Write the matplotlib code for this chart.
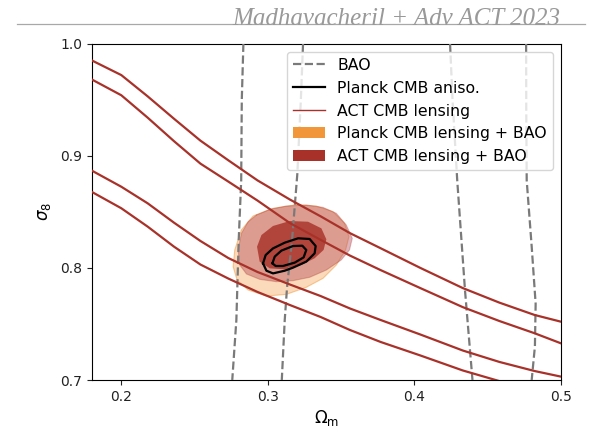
import matplotlib
matplotlib.use("Agg")
import matplotlib.pyplot as plt
from matplotlib.lines import Line2D
from matplotlib.patches import Patch

# ---- ACT CMB lensing band edges (sigma_8 along a common Omega_m grid) ----
lens_om = [0.180, 0.200, 0.218, 0.236, 0.254, 0.273, 0.293, 0.315, 0.336,
           0.356, 0.377, 0.404, 0.433, 0.458, 0.482, 0.500]
lens_upper_2s = [0.985, 0.972, 0.953, 0.933, 0.9135, 0.896, 0.878, 0.861, 0.846,
                 0.831, 0.8175, 0.800, 0.782, 0.769, 0.758, 0.752]
lens_upper_1s = [0.968, 0.954, 0.934, 0.913, 0.893, 0.877, 0.860, 0.840, 0.825,
                 0.811, 0.798, 0.782, 0.765, 0.7526, 0.7417, 0.7327]
lens_lower_1s = [0.8867, 0.8724, 0.8576, 0.8403, 0.824, 0.8088, 0.7963, 0.7852, 0.7749,
                 0.7638, 0.7535, 0.7406, 0.7263, 0.7161, 0.708, 0.703]
lens_lower_2s = [0.8677, 0.8532, 0.8368, 0.8189, 0.803, 0.7905, 0.7785, 0.7669, 0.7562,
                 0.7446, 0.7339, 0.7219, 0.7085, 0.699]

# ---- BAO contour edges (Omega_m along sigma_8) ----
bao1_s8 = [1.0, 0.95, 0.878, 0.825, 0.7535, 0.70]
bao1_om = [0.2833, 0.2822, 0.2818, 0.2801, 0.2785, 0.2757]
bao2_s8 = [1.0, 0.95, 0.884, 0.825, 0.783, 0.7535, 0.70]
bao2_om = [0.324, 0.3225, 0.3201, 0.3165, 0.3131, 0.3115, 0.3095]
bao3_s8 = [1.0, 0.95, 0.878, 0.78, 0.70]
bao3_om = [0.4243, 0.426, 0.4292, 0.4345, 0.4396]
bao4_s8 = [1.0, 0.94, 0.878, 0.819, 0.768, 0.73, 0.70]
bao4_om = [0.4762, 0.4763, 0.4766, 0.480, 0.4827, 0.4822, 0.480]

# ---- Planck CMB lensing + BAO, 95% region ----
plk_om = [0.2819, 0.2899, 0.3035, 0.3194, 0.3330, 0.3444, 0.3523, 0.3553, 0.3530,
          0.3467, 0.3376, 0.3262, 0.3126, 0.2990, 0.2865, 0.2790, 0.2763, 0.2774]
plk_s8 = [0.8338, 0.8463, 0.8531, 0.8564, 0.8552, 0.8502, 0.8398, 0.8279, 0.8160,
          0.8026, 0.7907, 0.7827, 0.7764, 0.7749, 0.7803, 0.7892, 0.8011, 0.8160]

# ---- ACT CMB lensing + BAO, 95% and 68% regions ----
act2_om = [0.2922, 0.3012, 0.3126, 0.3262, 0.3376, 0.3467, 0.3535, 0.3576, 0.3557,
           0.3501, 0.3399, 0.3285, 0.3171, 0.3058, 0.2944, 0.2854, 0.2808, 0.2797,
           0.2819, 0.2865]
act2_s8 = [0.8472, 0.8522, 0.8552, 0.8561, 0.8540, 0.8487, 0.8383, 0.8264, 0.8160,
           0.8071, 0.7981, 0.7916, 0.7886, 0.7877, 0.7898, 0.7946, 0.8026, 0.8160,
           0.8308, 0.8412]
act1_om = [0.2926, 0.2956, 0.3035, 0.3149, 0.3274, 0.3365, 0.3399, 0.3380, 0.3319,
           0.3228, 0.3115, 0.3013, 0.2944]
act1_s8 = [0.8189, 0.8293, 0.8374, 0.8418, 0.8412, 0.8353, 0.8255, 0.8160, 0.8086,
           0.8026, 0.7987, 0.7996, 0.8056]

# ---- Planck CMB anisotropies, 95% and 68% contours ----
pcmb2_om = [0.2967, 0.2985, 0.3035, 0.3115, 0.3206, 0.3285, 0.3326, 0.3319, 0.3262,
            0.3171, 0.3115, 0.3035, 0.2990]
pcmb2_s8 = [0.8041, 0.8115, 0.8174, 0.8225, 0.8264, 0.8258, 0.8195, 0.8130, 0.8056,
            0.8002, 0.7975, 0.7951, 0.7975]
pcmb1_om = [0.3031, 0.3047, 0.3092, 0.3171, 0.3235, 0.3262, 0.3244, 0.3183, 0.3103,
            0.3053]
pcmb1_s8 = [0.8041, 0.8101, 0.8154, 0.8195, 0.8198, 0.8160, 0.8094, 0.8047, 0.8017,
            0.8017]

xticks = [0.2, 0.3, 0.4, 0.5]
yticks = [0.7, 0.8, 0.9, 1.0]

RED = "#a8322a"
PINK = "#b04050"
ORANGE = "#f2963a"
GREY = "#7a7a7a"


def closed(xs, ys):
    return list(xs) + [xs[0]], list(ys) + [ys[0]]


fig = plt.figure(figsize=(5.94, 4.30), dpi=100)
ax = fig.add_axes([92 / 594, 50 / 430, 469 / 594, 336.3 / 430])

# filled constraint regions
ax.fill(plk_om, plk_s8, facecolor=ORANGE, alpha=0.35, edgecolor="none", zorder=1)
x, y = closed(plk_om, plk_s8)
ax.plot(x, y, color=ORANGE, alpha=0.5, lw=0.8, zorder=1)
ax.fill(act2_om, act2_s8, facecolor=PINK, alpha=0.4, edgecolor="none", zorder=2)
x, y = closed(act2_om, act2_s8)
ax.plot(x, y, color=RED, alpha=0.3, lw=0.8, zorder=2)
ax.fill(act1_om, act1_s8, facecolor=RED, alpha=0.82, edgecolor="none", zorder=3)

# BAO dashed contours
for om, s8 in [(bao1_om, bao1_s8), (bao2_om, bao2_s8),
               (bao3_om, bao3_s8), (bao4_om, bao4_s8)]:
    ax.plot(om, s8, ls="--", color=GREY, lw=1.6, zorder=4)

# ACT lensing band edges
for band in [lens_upper_2s, lens_upper_1s, lens_lower_1s]:
    ax.plot(lens_om, band, color=RED, lw=1.6, zorder=5)
ax.plot(lens_om[:len(lens_lower_2s)], lens_lower_2s, color=RED, lw=1.6, zorder=5)

# Planck CMB anisotropy contours
for om, s8 in [(pcmb2_om, pcmb2_s8), (pcmb1_om, pcmb1_s8)]:
    x, y = closed(om, s8)
    ax.plot(x, y, color="black", lw=1.6, solid_joinstyle="round", zorder=6)

ax.set_xlim(0.18, 0.5)
ax.set_ylim(0.7, 1.0)
ax.set_xticks(xticks)
ax.set_yticks(yticks)
ax.set_xticklabels([f"{v:.1f}" for v in xticks])
ax.set_yticklabels([f"{v:.1f}" for v in yticks])
ax.tick_params(labelsize=10, colors="#222222")
ax.set_xlabel(r"$\Omega_{\rm m}$", fontsize=12, labelpad=3)
ax.set_ylabel(r"$\sigma_8$", fontsize=12, labelpad=5)

handles = [
    Line2D([], [], ls="--", color=GREY, lw=1.6),
    Line2D([], [], color="black", lw=1.6),
    Line2D([], [], color=RED, lw=1.0),
    Patch(facecolor=ORANGE, edgecolor="none"),
    Patch(facecolor=RED, edgecolor="none"),
]
labels = ["BAO", "Planck CMB aniso.", "ACT CMB lensing",
          "Planck CMB lensing + BAO", "ACT CMB lensing + BAO"]
leg = ax.legend(handles, labels, loc="upper right", fontsize=11.3,
                framealpha=0.8, handlelength=2.0, labelspacing=0.5)
leg.set_zorder(10)

# header with rule
fig.add_artist(Line2D([17 / 594, 585 / 594], [1 - 24 / 430, 1 - 24 / 430],
                      color="#a8a8a8", lw=0.9))
fig.text(560 / 594, 1 - 25 / 430, "Madhavacheril + Adv ACT 2023",
         family="Liberation Serif", style="italic", fontsize=18,
         color="#999999", ha="right", va="baseline")

fig.savefig("out.png", dpi=100)
